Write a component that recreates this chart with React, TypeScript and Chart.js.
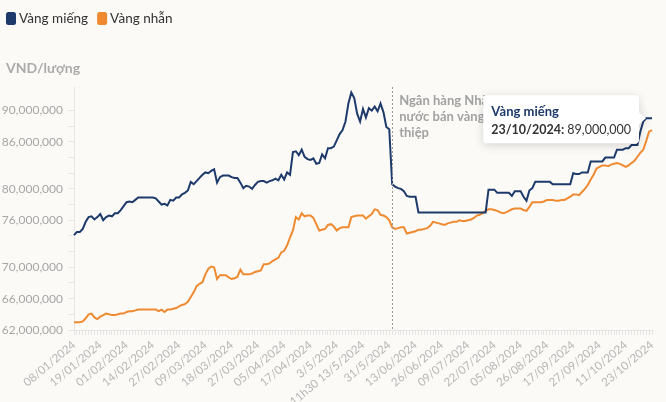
import React, { useEffect, useRef } from "react";
import { Chart, registerables } from "chart.js";

Chart.register(...registerables);

// ---- DATA (values in million VND / lượng) ----
const tickLabels = [
  "08/01/2024", "19/01/2024", "01/02/2024", "14/02/2024", "27/02/2024", "09/03/2024",
  "18/03/2024", "27/03/2024", "05/04/2024", "17/04/2024", "3/5/2024", "11h30 13/5/2024",
  "31/5/2024", "13/06/2024", "26/06/2024", "09/07/2024", "22/07/2024", "05/08/2024",
  "26/08/2024", "17/09/2024", "27/09/2024", "11/10/2024", "23/10/2024",
];
const LABEL_STEP = 9;

const vangMieng = [
  74.1, 74.5, 74.5, 74.9, 75.8, 76.4, 76.5, 76.1, 76.4, 76.8,
  76.0, 76.4, 76.6, 76.5, 76.9, 76.9, 77.3, 77.8, 78.3, 78.4,
  78.3, 78.6, 78.9, 78.9, 78.9, 78.9, 78.9, 78.9, 78.8, 78.4,
  78.0, 78.1, 77.9, 78.6, 78.5, 78.9, 78.9, 79.3, 79.5, 79.8,
  80.9, 80.6, 81.0, 81.4, 81.8, 82.1, 82.0, 82.3, 82.5, 80.8,
  81.5, 81.7, 81.7, 81.7, 81.5, 81.4, 81.4, 80.8, 80.1, 80.4,
  80.3, 80.0, 80.5, 80.9, 81.0, 81.0, 80.8, 81.0, 81.1, 81.3,
  81.1, 81.8, 81.2, 82.1, 81.8, 84.7, 84.8, 84.3, 85.0, 84.1,
  83.8, 83.7, 83.9, 83.2, 83.3, 84.4, 83.9, 85.2, 85.2, 85.4,
  86.2, 87.0, 87.5, 88.6, 90.9, 92.3, 91.6, 89.6, 88.6, 90.2,
  89.1, 90.3, 90.0, 90.5, 89.9, 90.9, 89.8, 87.9, 87.6, 80.6,
  80.3, 80.1, 80.0, 79.7, 79.1, 79.0, 79.0, 79.0, 77.0, 77.0,
  77.0, 77.0, 77.0, 77.0, 77.0, 77.0, 77.0, 77.0, 77.0, 77.0,
  77.0, 77.0, 77.0, 77.0, 77.0, 77.0, 77.0, 77.0, 77.0, 77.0,
  77.0, 77.0, 79.9, 79.9, 79.9, 79.5, 79.5, 79.5, 79.5, 79.5,
  79.1, 79.7, 79.7, 79.7, 79.0, 78.5, 79.8, 80.1, 80.9, 80.9,
  80.9, 80.9, 80.9, 80.9, 80.6, 80.6, 80.6, 80.6, 80.6, 80.6,
  80.6, 82.0, 81.9, 81.9, 82.1, 82.1, 82.1, 83.5, 83.5, 83.5,
  83.5, 83.5, 84.0, 84.0, 84.0, 84.0, 85.0, 85.0, 85.0, 85.2,
  85.2, 85.6, 85.6, 85.6, 87.3, 88.6, 89.0, 89.0, 89.0,
];

const vangNhan = [
  63.0, 63.0, 63.0, 63.1, 63.5, 64.0, 64.1, 63.6, 63.4, 63.7,
  63.9, 64.1, 64.0, 63.9, 63.9, 64.0, 64.1, 64.1, 64.3, 64.4,
  64.4, 64.5, 64.6, 64.6, 64.6, 64.6, 64.6, 64.6, 64.6, 64.4,
  64.6, 64.3, 64.6, 64.6, 64.7, 64.8, 65.0, 65.2, 65.3, 65.6,
  66.2, 66.8, 67.6, 67.9, 68.1, 69.1, 69.8, 70.1, 70.0, 68.5,
  69.0, 69.0, 69.0, 68.7, 68.5, 68.6, 68.8, 69.7, 69.1, 69.1,
  69.1, 69.2, 69.4, 69.5, 69.6, 70.4, 70.4, 70.5, 70.8, 71.0,
  71.2, 71.9, 72.1, 72.8, 73.8, 74.7, 76.4, 76.1, 76.9, 76.5,
  76.6, 76.6, 76.3, 75.5, 74.7, 74.8, 74.9, 75.4, 75.5, 75.2,
  74.7, 75.0, 75.1, 75.1, 75.1, 76.4, 76.5, 76.6, 76.6, 76.6,
  76.2, 76.5, 76.8, 77.4, 77.3, 76.7, 76.6, 76.4, 76.0, 75.1,
  74.9, 75.0, 75.1, 75.1, 74.3, 74.4, 74.5, 74.6, 74.8, 74.8,
  74.9, 75.0, 75.3, 75.8, 75.7, 75.6, 75.5, 75.4, 75.6, 75.7,
  75.8, 75.8, 76.0, 75.9, 75.9, 76.0, 76.1, 76.3, 76.6, 76.7,
  76.9, 77.2, 77.4, 77.4, 77.3, 77.2, 77.0, 76.9, 77.0, 77.2,
  77.4, 77.5, 77.5, 77.5, 77.3, 77.2, 77.7, 78.3, 78.3, 78.3,
  78.3, 78.4, 78.6, 78.6, 78.6, 78.5, 78.5, 78.6, 78.6, 78.8,
  79.0, 79.3, 79.3, 79.2, 79.6, 80.0, 80.5, 81.2, 81.8, 82.6,
  82.8, 83.0, 83.0, 82.9, 83.1, 83.2, 83.3, 83.2, 83.0, 82.8,
  83.0, 83.3, 83.6, 84.1, 84.6, 85.0, 86.1, 87.3, 87.5,
];

const seriesNames = ["Vàng miếng", "Vàng nhẫn"];
const seriesColors = ["#1d3a6b", "#ef8a31"];
const yTickLabels = [62, 66, 70, 76, 80, 86, 90];
const yUnit = "VND/lượng";
const annotationIndex = 109;
const annotationLines = ["Ngân hàng Nhà", "nước bán vàng can", "thiệp"];

const FONT = "Lato, 'Open Sans', sans-serif";
const BG = "#fbfaf7";

const fmt = (m: number) => Math.round(m * 1e6).toLocaleString("en-US");

const overlayPlugin = {
  id: "overlay",
  afterDatasetsDraw(chart: any) {
    const { ctx, chartArea } = chart;
    const x = chart.scales.x.getPixelForValue(annotationIndex);
    ctx.save();
    ctx.strokeStyle = "#9a9a9a";
    ctx.lineWidth = 1;
    ctx.setLineDash([2, 2]);
    ctx.beginPath();
    ctx.moveTo(Math.round(x) + 0.5, chartArea.top);
    ctx.lineTo(Math.round(x) + 0.5, chartArea.bottom);
    ctx.stroke();
    ctx.setLineDash([]);
    ctx.fillStyle = "#a2a2a2";
    ctx.font = `bold 13px ${FONT}`;
    ctx.textBaseline = "alphabetic";
    annotationLines.forEach((t, i) => {
      ctx.fillText(t, x + 7, chartArea.top + 18 + i * 16);
    });
    ctx.restore();
  },
  afterDraw(chart: any) {
    const { ctx } = chart;
    ctx.save();
    // legend
    ctx.font = `13.5px ${FONT}`;
    ctx.textBaseline = "middle";
    let lx = 6;
    seriesNames.forEach((name, i) => {
      ctx.fillStyle = seriesColors[i];
      ctx.beginPath();
      (ctx as any).roundRect(lx, 12, 10, 13, 2.5);
      ctx.fill();
      ctx.fillStyle = "#333333";
      ctx.fillText(name, lx + 13, 19);
      lx += 13 + ctx.measureText(name).width + 9;
    });
    // unit title
    ctx.font = `bold 14px ${FONT}`;
    ctx.fillStyle = "#ababab";
    ctx.fillText(yUnit, 6, 68);

    // tooltip on last point of first series
    const last = vangMieng.length - 1;
    const pt = chart.getDatasetMeta(0).data[last];
    const px = pt.x, py = pt.y;
    const title = seriesNames[0];
    const dateLbl = tickLabels[tickLabels.length - 1] + ":";
    const valLbl = " " + fmt(vangMieng[last]);
    ctx.font = `bold 12.5px ${FONT}`;
    const dW = ctx.measureText(dateLbl).width;
    ctx.font = `bold 13px ${FONT}`;
    const tW = ctx.measureText(title).width;
    ctx.font = `12.5px ${FONT}`;
    const vW = ctx.measureText(valLbl).width;
    const w = Math.max(tW, dW + vW) + 16;
    const h = 48;
    const right = px - 13;
    const left = right - w;
    const top = py - h / 2 + 1;
    const r = 3;
    ctx.save();
    ctx.shadowColor = "rgba(0,0,0,0.16)";
    ctx.shadowBlur = 10;
    ctx.shadowOffsetY = 2;
    ctx.fillStyle = "#ffffff";
    ctx.beginPath();
    ctx.moveTo(left + r, top);
    ctx.lineTo(right - r, top);
    ctx.quadraticCurveTo(right, top, right, top + r);
    ctx.lineTo(right, py - 6);
    ctx.lineTo(px - 6, py);
    ctx.lineTo(right, py + 6);
    ctx.lineTo(right, top + h - r);
    ctx.quadraticCurveTo(right, top + h, right - r, top + h);
    ctx.lineTo(left + r, top + h);
    ctx.quadraticCurveTo(left, top + h, left, top + h - r);
    ctx.lineTo(left, top + r);
    ctx.quadraticCurveTo(left, top, left + r, top);
    ctx.closePath();
    ctx.fill();
    ctx.restore();
    ctx.textBaseline = "alphabetic";
    ctx.font = `bold 13px ${FONT}`;
    ctx.fillStyle = seriesColors[0];
    ctx.fillText(title, left + 8, top + 21);
    ctx.fillStyle = "#333333";
    ctx.font = `bold 12.5px ${FONT}`;
    ctx.fillText(dateLbl, left + 8, top + 39);
    ctx.font = `12.5px ${FONT}`;
    ctx.fillText(valLbl, left + 8 + dW, top + 39);
    ctx.restore();
  },
};

export default function App() {
  const ref = useRef<HTMLCanvasElement | null>(null);

  useEffect(() => {
    if (!ref.current) return;
    const categories = vangMieng.map((_, i) =>
      i % LABEL_STEP === 0 ? tickLabels[i / LABEL_STEP] ?? "" : ""
    );
    const chart = new Chart(ref.current, {
      type: "line",
      data: {
        labels: categories,
        datasets: [
          {
            label: seriesNames[0],
            data: vangMieng,
            borderColor: seriesColors[0],
            backgroundColor: seriesColors[0],
            borderWidth: 2,
            pointRadius: 0,
            tension: 0,
          },
          {
            label: seriesNames[1],
            data: vangNhan,
            borderColor: seriesColors[1],
            backgroundColor: seriesColors[1],
            borderWidth: 2,
            pointRadius: 0,
            tension: 0,
          },
        ],
      },
      options: {
        responsive: false,
        animation: false,
        events: [],
        layout: { padding: { top: 87, right: 14, left: 0, bottom: 0 } },
        plugins: {
          legend: { display: false },
          tooltip: { enabled: false },
          title: { display: false },
        },
        scales: {
          x: {
            type: "category",
            offset: false,
            grid: {
              drawOnChartArea: false,
              drawTicks: true,
              tickLength: 5,
              color: "#e4e4e4",
            },
            border: { display: true, color: "#e4e4e4" },
            ticks: {
              autoSkip: false,
              maxRotation: 40,
              minRotation: 40,
              padding: 3,
              color: "#b6b6b6",
              font: { family: FONT, size: 11.5 },
              callback: (_v: any, i: number) => categories[i],
            },
            afterFit: (s: any) => {
              s.height = 72;
            },
          },
          y: {
            type: "linear",
            min: 62,
            max: 93,
            grid: {
              drawOnChartArea: false,
              drawTicks: true,
              tickLength: 6,
              color: "#e6e6e6",
            },
            border: { display: true, color: "#e6e6e6" },
            ticks: {
              stepSize: 2,
              autoSkip: false,
              padding: 5,
              color: "#a6a6a6",
              font: { family: FONT, size: 12 },
              callback: (v: any) => {
                const n = Math.round(Number(v) * 1000) / 1000;
                return yTickLabels.includes(n) ? fmt(n) : "";
              },
            },
            afterBuildTicks: (s: any) => {
              s.ticks = s.ticks.filter((t: any) => {
                const n = Math.round(t.value * 1000) / 1000;
                return Math.abs(n % 2) < 1e-6;
              });
            },
            afterFit: (s: any) => {
              s.width = 74;
            },
          },
        },
      },
      plugins: [overlayPlugin],
    });
    return () => chart.destroy();
  }, []);

  return (
    <div
      style={{
        position: "absolute",
        left: 0,
        top: 0,
        width: 666,
        height: 402,
        background: BG,
      }}
    >
      <canvas ref={ref} width={666} height={402} style={{ display: "block" }} />
    </div>
  );
}
